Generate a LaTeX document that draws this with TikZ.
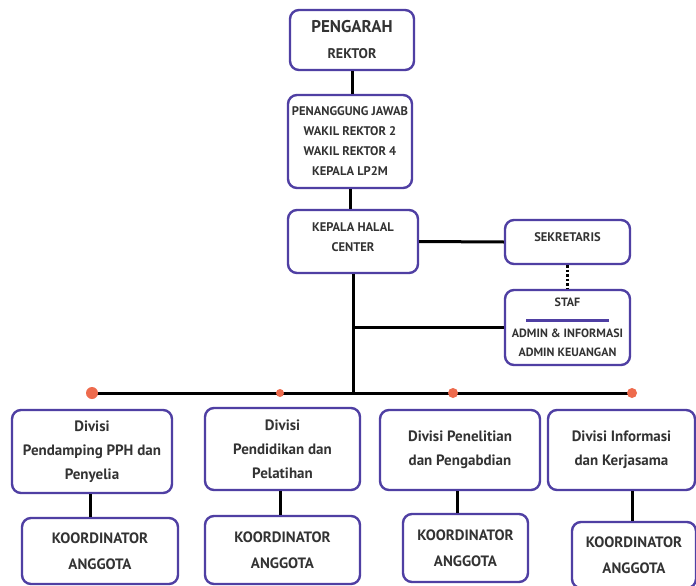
\documentclass[tikz,border=0pt]{standalone}
\usepackage{fontspec}
\setmainfont{PT Sans}
\usepackage{tikz}
\definecolor{boxline}{HTML}{4F3FA3}
\definecolor{dotorange}{HTML}{EE6B4D}
\definecolor{inktext}{HTML}{333333}
\tikzset{
  unitbox/.style={draw=boxline,line width=2.4pt,rounded corners=9pt,fill=white,
    align=center,inner sep=0pt,text=inktext,font=\bfseries\fontsize{12.5}{20}\selectfont},
  divbox/.style={unitbox,font=\bfseries\fontsize{15}{24}\selectfont},
  korbox/.style={unitbox,font=\bfseries\fontsize{15}{26}\selectfont},
  link/.style={line width=3pt,black},
  busdot/.style={circle,fill=dotorange,inner sep=0pt}
}
\begin{document}
\begin{tikzpicture}[x=1pt,y=-1pt]
		\useasboundingbox[fill=white] (0,0) rectangle (696,586);
		% top of the chart
		\node[unitbox,minimum width=124,minimum height=60] (pengarah) at (352,40)
			{{\fontsize{17}{22}\selectfont PENGARAH}\\[6pt]{\fontsize{14}{22}\selectfont REKTOR}};
		\node[unitbox,minimum width=124,minimum height=93] (jawab) at (350,141.5)
			{PENANGGUNG JAWAB\\WAKIL REKTOR 2\\WAKIL REKTOR 4\\KEPALA LP2M};
		\node[unitbox,minimum width=130,minimum height=63,text depth=9pt] (kepala) at (353,241.5)
			{KEPALA HALAL\\CENTER};
		\node[unitbox,minimum width=125,minimum height=44,text depth=10pt] (sekretaris) at (567.5,242)
			{SEKRETARIS};
		\node[unitbox,minimum width=125,minimum height=75,font=\bfseries\fontsize{12}{19}\selectfont] (staf) at (567.5,327.5)
			{STAF\\[-4pt]\textcolor{boxline}{\rule{83pt}{2.5pt}}\\[-3pt]ADMIN \& INFORMASI\\ADMIN KEUANGAN};
		% divisions
		\node[divbox,minimum width=160,minimum height=83] (div1) at (92,451.5)
			{Divisi\\Pendamping PPH dan\\Penyelia};
		\node[divbox,minimum width=155,minimum height=82] (div2) at (282.5,449)
			{Divisi\\Pendidikan dan\\Pelatihan};
		\node[divbox,minimum width=160,minimum height=80] (div3) at (460,450)
			{Divisi Penelitian\\dan Pengabdian};
		\node[divbox,minimum width=147,minimum height=80] (div4) at (621.5,450)
			{Divisi Informasi\\dan Kerjasama};
		% coordinators
		\node[korbox,minimum width=156,minimum height=66] (kor1) at (100,551) {KOORDINATOR\\ANGGOTA};
		\node[korbox,minimum width=155,minimum height=68] (kor2) at (282.5,550) {KOORDINATOR\\ANGGOTA};
		\node[korbox,minimum width=125,minimum height=68] (kor3) at (465.5,548) {KOORDINATOR\\ANGGOTA};
		\node[korbox,minimum width=124,minimum height=66] (kor4) at (634,555) {KOORDINATOR\\ANGGOTA};
		% bus
		\coordinate (dot1) at (92,393);
		\coordinate (dot2) at (280,393);
		\coordinate (dot3) at (453,393);
		\coordinate (dot4) at (632,393);
		% connectors
		\draw[link] (pengarah.south) -- (pengarah.south |- jawab.north);
		\draw[link] (jawab.south) -- (jawab.south |- kepala.north);
		\draw[link] (kepala.east) -- (sekretaris.west);
		\draw[link,line width=2.5pt,dotted] (sekretaris.south) -- (staf.north);
		\draw[link] (kepala.south) -- (kepala.south |- dot1);
		\draw[link] (kepala.south |- staf.west) -- (staf.west);
		\draw[link] (dot1) -- (dot4);
		\foreach \d/\s in {1/12,2/8,3/10,4/10}
		{\node[busdot,minimum size=\s] at (dot\d) {};}
		\draw[link] (div1.south -| 90,0) -- (90,0 |- kor1.north);
		\draw[link] (div2.south -| 280,0) -- (280,0 |- kor2.north);
		\draw[link] (div3.south -| 457,0) -- (457,0 |- kor3.north);
		\draw[link] (div4.south -| 632,0) -- (632,0 |- kor4.north);
	\end{tikzpicture}
\end{document}
